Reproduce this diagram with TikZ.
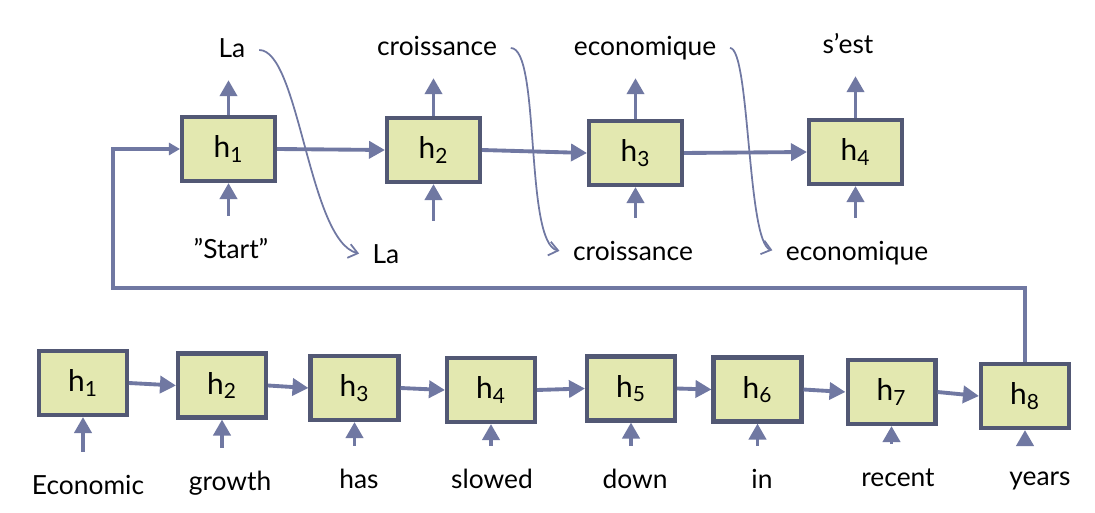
\documentclass[tikz,border=0pt]{standalone}
\usepackage{fontspec}
\setmainfont{Lato}
\usetikzlibrary{arrows.meta,calc}

\definecolor{boxfill}{RGB}{227,232,176}
\definecolor{boxline}{RGB}{82,88,116}
\definecolor{arrowc}{RGB}{112,120,162}

\newcommand{\hsub}[1]{h\textsubscript{#1}}

\begin{document}
\begin{tikzpicture}[x=0.02cm,y=-0.02cm,
    word/.style={font=\fontsize{15}{18}\selectfont, text height=11pt, text depth=3pt, inner sep=2pt},
    cell/.style={draw=boxline, line width=2.3pt, fill=boxfill, minimum width=1.86cm, minimum height=1.28cm, font=\fontsize{17}{20}\selectfont},
    small cell/.style={cell, minimum width=1.76cm},
    flow/.style={draw=arrowc, line width=2.2pt, -{Triangle[length=0.32cm,width=0.34cm]}},
    carry/.style={draw=arrowc, line width=1pt, -{Straight Barb[length=1.8mm,width=2.8mm]}, shorten <=0.2cm, shorten >=0.2cm}]
    \useasboundingbox (0,0) rectangle (1095,513);

    % decoder
    \node[cell] (D1) at (228.5,149) {\hsub{1}};
    \node[cell] (D2) at (433.5,150) {\hsub{2}};
    \node[cell] (D3) at (635.5,153) {\hsub{3}};
    \node[cell] (D4) at (855.5,152) {\hsub{4}};

    \node[word] (T1) at (232,50) {La};
    \node[word] (T2) at (437,48) {croissance};
    \node[word] (T3) at (645,48) {economique};
    \node[word] (T4) at (848,46) {s'est};

    \node[word] (U1) at (231,251) {''Start''};
    \node[word] (U2) at (386,256) {La};
    \node[word] (U3) at (633,253) {croissance};
    \node[word] (U4) at (857,253) {economique};

    \draw[flow, shorten >=0.28cm] (D1.north) -- (D1.north |- T1.south);
    \draw[flow, shorten >=0.28cm] (D2.north) -- (D2.north |- T2.south);
    \draw[flow, shorten >=0.28cm] (D3.north) -- (D3.north |- T3.south);
    \draw[flow, shorten >=0.28cm] (D4.north) -- (D4.north |- T4.south);

    \draw[flow, shorten <=0.38cm] (D1.south |- U1.north) -- (D1.south);
    \draw[flow, shorten <=0.38cm] (D2.south |- U2.north) -- (D2.south);
    \draw[flow, shorten <=0.38cm] (D3.south |- U3.north) -- (D3.south);
    \draw[flow, shorten <=0.38cm] (D4.south |- U4.north) -- (D4.south);

    \draw[flow] (D1.east) -- (D2.west);
    \draw[flow] (D2.east) -- (D3.west);
    \draw[flow] (D3.east) -- (D4.west);

    % previous output fed back in
    \draw[carry] (T1.east) .. controls +(50,0) and +(-60,-15) .. (U2.west);
    \draw[carry] (T2.east) .. controls +(40,0) and +(-45,-10) .. (U3.west);
    \draw[carry] (T3.east) .. controls +(30,0) and +(-35,-10) .. (U4.west);

    % encoder
    \node[small cell] (E1) at (83,383) {\hsub{1}};
    \node[small cell] (E2) at (222,385.5) {\hsub{2}};
    \node[small cell] (E3) at (354.5,388) {\hsub{3}};
    \node[small cell] (E4) at (491,390) {\hsub{4}};
    \node[small cell] (E5) at (631,388.5) {\hsub{5}};
    \node[small cell] (E6) at (757.5,389.5) {\hsub{6}};
    \node[small cell] (E7) at (891.5,392) {\hsub{7}};
    \node[small cell] (E8) at (1025,396) {\hsub{8}};

    \node[word] (W1) at (88,487) {Economic};
    \node[word] (W2) at (230,483) {growth};
    \node[word] (W3) at (359,481) {has};
    \node[word] (W4) at (492,481) {slowed};
    \node[word] (W5) at (635,481) {down};
    \node[word] (W6) at (762,481) {in};
    \node[word] (W7) at (898,479) {recent};
    \node[word] (W8) at (1040,478) {years};

    \draw[flow, shorten <=0.38cm] (E1.south |- W1.north) -- (E1.south);
    \draw[flow, shorten <=0.38cm] (E2.south |- W2.north) -- (E2.south);
    \draw[flow, shorten <=0.38cm] (E3.south |- W3.north) -- (E3.south);
    \draw[flow, shorten <=0.38cm] (E4.south |- W4.north) -- (E4.south);
    \draw[flow, shorten <=0.38cm] (E5.south |- W5.north) -- (E5.south);
    \draw[flow, shorten <=0.38cm] (E6.south |- W6.north) -- (E6.south);
    \draw[flow, shorten <=0.38cm] (E7.south |- W7.north) -- (E7.south);
    \draw[flow, shorten <=0.38cm] (E8.south |- W8.north) -- (E8.south);

    \draw[flow] (E1.east) -- (E2.west);
    \draw[flow] (E2.east) -- (E3.west);
    \draw[flow] (E3.east) -- (E4.west);
    \draw[flow] (E4.east) -- (E5.west);
    \draw[flow] (E5.east) -- (E6.west);
    \draw[flow] (E6.east) -- (E7.west);
    \draw[flow] (E7.east) -- (E8.west);

    % last encoder state starts the decoder
    \coordinate (K) at (113,288);
    \draw[flow, line width=1.8pt, -{Triangle[length=0.22cm,width=0.24cm]}] (E8.north) |- (K) |- (D1.west);
\end{tikzpicture}
\end{document}
